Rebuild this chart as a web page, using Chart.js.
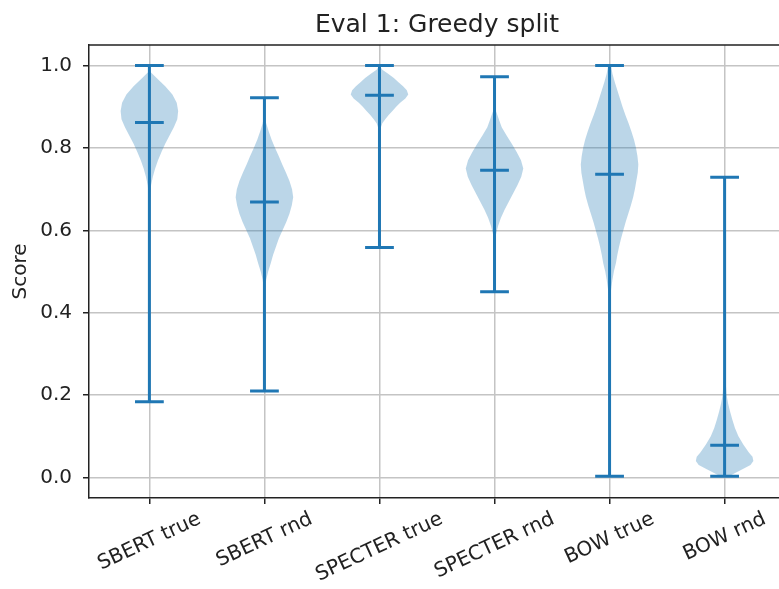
<!DOCTYPE html>
<html>
<head>
<meta charset="utf-8">
<script src="https://cdn.jsdelivr.net/npm/chart.js@4.4.1/dist/chart.umd.min.js"></script>
<style>
    body { margin: 0; overflow: hidden; background: #fff; }
    #wrap { width: 800px; height: 589px; }
</style>
</head>
<body>
<div id="wrap"><canvas id="violinChart" width="800" height="589"></canvas></div>
<script>
// Categories and summary values
const categories = ['SBERT true', 'SBERT rnd', 'SPECTER true', 'SPECTER rnd', 'BOW true', 'BOW rnd'];
const minScores = [0.184, 0.210, 0.558, 0.451, 0.003, 0.003];
const maxScores = [1.0, 0.922, 1.0, 0.973, 1.0, 0.729];
const meanScores = [0.862, 0.669, 0.928, 0.746, 0.736, 0.078];
const yTicks = [0.0, 0.2, 0.4, 0.6, 0.8, 1.0];

// Violin outlines: score level -> relative half width (1 = widest point)
const sbertTrueLevels = [1.0, 0.985, 0.97, 0.95, 0.93, 0.91, 0.89, 0.87, 0.85, 0.83, 0.81, 0.79, 0.77, 0.75, 0.73, 0.71, 0.69, 0.65, 0.55, 0.40, 0.184];
const sbertTrueDensity = [0, 0.03, 0.25, 0.55, 0.8, 0.95, 1.0, 0.97, 0.85, 0.7, 0.55, 0.42, 0.3, 0.2, 0.12, 0.06, 0.03, 0.012, 0.005, 0.002, 0];

const sbertRndLevels = [0.922, 0.88, 0.86, 0.84, 0.82, 0.80, 0.78, 0.76, 0.74, 0.72, 0.70, 0.68, 0.66, 0.64, 0.62, 0.60, 0.58, 0.56, 0.54, 0.52, 0.50, 0.48, 0.46, 0.42, 0.30, 0.210];
const sbertRndDensity = [0, 0.02, 0.06, 0.15, 0.25, 0.37, 0.5, 0.62, 0.75, 0.87, 0.96, 1.0, 0.95, 0.87, 0.76, 0.63, 0.5, 0.4, 0.3, 0.22, 0.13, 0.06, 0.03, 0.01, 0.003, 0];

const specterTrueLevels = [1.0, 0.99, 0.98, 0.97, 0.96, 0.95, 0.94, 0.93, 0.92, 0.91, 0.90, 0.89, 0.88, 0.87, 0.86, 0.85, 0.83, 0.80, 0.70, 0.558];
const specterTrueDensity = [0, 0.1, 0.3, 0.5, 0.65, 0.82, 0.95, 1.0, 0.9, 0.72, 0.58, 0.45, 0.32, 0.2, 0.1, 0.05, 0.02, 0.01, 0.003, 0];

const specterRndLevels = [0.973, 0.92, 0.89, 0.87, 0.85, 0.83, 0.81, 0.79, 0.77, 0.75, 0.73, 0.71, 0.69, 0.67, 0.65, 0.63, 0.61, 0.59, 0.56, 0.50, 0.451];
const specterRndDensity = [0, 0.01, 0.05, 0.15, 0.25, 0.42, 0.6, 0.77, 0.92, 1.0, 0.93, 0.8, 0.65, 0.5, 0.35, 0.22, 0.12, 0.05, 0.02, 0.01, 0];

const bowTrueLevels = [1.0, 0.98, 0.96, 0.94, 0.92, 0.90, 0.88, 0.86, 0.84, 0.82, 0.80, 0.78, 0.76, 0.74, 0.72, 0.70, 0.68, 0.66, 0.64, 0.62, 0.60, 0.58, 0.56, 0.54, 0.52, 0.50, 0.48, 0.46, 0.44, 0.40, 0.25, 0.003];
const bowTrueDensity = [0.05, 0.1, 0.18, 0.27, 0.36, 0.45, 0.55, 0.66, 0.76, 0.85, 0.92, 0.97, 1.0, 0.98, 0.93, 0.88, 0.82, 0.74, 0.65, 0.56, 0.48, 0.4, 0.33, 0.27, 0.22, 0.15, 0.1, 0.06, 0.03, 0.01, 0.003, 0];

const bowRndLevels = [0.729, 0.40, 0.30, 0.24, 0.20, 0.18, 0.16, 0.14, 0.12, 0.10, 0.08, 0.06, 0.05, 0.04, 0.03, 0.02, 0.01, 0.003];
const bowRndDensity = [0, 0.005, 0.01, 0.03, 0.07, 0.12, 0.19, 0.27, 0.36, 0.48, 0.65, 0.85, 0.97, 1.0, 0.9, 0.62, 0.35, 0.15];

const profiles = [
    [sbertTrueLevels, sbertTrueDensity],
    [sbertRndLevels, sbertRndDensity],
    [specterTrueLevels, specterTrueDensity],
    [specterRndLevels, specterRndDensity],
    [bowTrueLevels, bowTrueDensity],
    [bowRndLevels, bowRndDensity]
];

const blue = '#1f77b4';
const textColor = '#222';
const fontFamily = "'DejaVu Sans', sans-serif";
const tickFontSize = 20;
const violinHalfWidth = 0.25;   // matplotlib default widths=0.5
const capHalfWidth = 0.125;

const datasets = [];

// Filled violin bodies
profiles.forEach(([levels, density], i) => {
    const pos = i + 1;
    const right = levels.map((y, k) => ({ x: pos + density[k] * violinHalfWidth, y: y }));
    const left = levels.map((y, k) => ({ x: pos - density[k] * violinHalfWidth, y: y })).reverse();
    datasets.push({
        data: right.concat(left),
        showLine: true,
        fill: 'shape',
        backgroundColor: 'rgba(31, 119, 180, 0.3)',
        borderColor: 'rgba(31, 119, 180, 0)',
        borderWidth: 0,
        pointRadius: 0,
        order: 2
    });
});

// Range bars, min/max caps and mean markers
categories.forEach((name, i) => {
    const pos = i + 1;
    const gap = { x: pos, y: null };
    datasets.push({
        data: [
            { x: pos, y: minScores[i] }, { x: pos, y: maxScores[i] }, gap,
            { x: pos - capHalfWidth, y: maxScores[i] }, { x: pos + capHalfWidth, y: maxScores[i] }, gap,
            { x: pos - capHalfWidth, y: minScores[i] }, { x: pos + capHalfWidth, y: minScores[i] }, gap,
            { x: pos - capHalfWidth, y: meanScores[i] }, { x: pos + capHalfWidth, y: meanScores[i] }
        ],
        showLine: true,
        spanGaps: false,
        fill: false,
        borderColor: blue,
        borderWidth: 3,
        borderCapStyle: 'butt',
        pointRadius: 0,
        order: 1
    });
});

// Top/right spines and matplotlib-style centred rotated category labels
const axisExtras = {
    id: 'axisExtras',
    afterDraw(chart) {
        const { ctx, chartArea, scales: { x } } = chart;
        ctx.save();
        ctx.strokeStyle = textColor;
        ctx.lineWidth = 1.5;
        ctx.beginPath();
        ctx.moveTo(chartArea.left, chartArea.top);
        ctx.lineTo(chartArea.right, chartArea.top);
        ctx.lineTo(chartArea.right, chartArea.bottom);
        ctx.stroke();

        const angle = 25 * Math.PI / 180;
        ctx.font = tickFontSize + 'px ' + fontFamily;
        ctx.fillStyle = textColor;
        ctx.textAlign = 'center';
        ctx.textBaseline = 'middle';
        categories.forEach((label, i) => {
            const px = x.getPixelForValue(i + 1);
            const w = ctx.measureText(label).width;
            const boxH = w * Math.sin(angle) + tickFontSize * 0.9 * Math.cos(angle);
            const cy = chartArea.bottom + 12 + boxH / 2;
            ctx.save();
            ctx.translate(px, cy);
            ctx.rotate(-angle);
            ctx.fillText(label, 0, 0);
            ctx.restore();
        });
        ctx.restore();
    }
};

const ctx = document.getElementById('violinChart').getContext('2d');
new Chart(ctx, {
    type: 'scatter',
    data: { datasets: datasets },
    options: {
        responsive: false,
        animation: false,
        layout: { padding: { left: 0, right: 15, top: 0, bottom: 0 } },
        plugins: {
            legend: { display: false },
            tooltip: { enabled: false },
            title: {
                display: true,
                fullSize: false,
                text: 'Eval 1: Greedy split',
                color: textColor,
                font: { family: fontFamily, size: 25, weight: 'normal' },
                padding: { top: 10, bottom: 5 }
            }
        },
        scales: {
            x: {
                type: 'linear',
                min: 0.475,
                max: 6.525,
                afterBuildTicks: scale => {
                    scale.ticks = categories.map((c, i) => ({ value: i + 1 }));
                },
                afterFit: scale => { scale.height = 91; },
                ticks: { callback: () => '', maxRotation: 0 },
                grid: { color: '#c4c4c4', lineWidth: 1.5, tickColor: textColor, tickLength: 6, tickWidth: 1.5 },
                border: { color: textColor, width: 1.5 }
            },
            y: {
                min: -0.05,
                max: 1.05,
                afterBuildTicks: scale => {
                    scale.ticks = yTicks.map(v => ({ value: v }));
                },
                afterFit: scale => { scale.width = 89; },
                ticks: {
                    color: textColor,
                    padding: 11,
                    font: { family: fontFamily, size: tickFontSize },
                    callback: v => Number(v).toFixed(1)
                },
                grid: { color: '#c4c4c4', lineWidth: 1.5, tickColor: textColor, tickLength: 6, tickWidth: 1.5 },
                border: { color: textColor, width: 1.5 },
                title: {
                    display: true,
                    text: 'Score',
                    color: textColor,
                    font: { family: fontFamily, size: tickFontSize },
                    padding: { top: 9, bottom: 0 }
                }
            }
        }
    },
    plugins: [axisExtras]
});
</script>
</body>
</html>
